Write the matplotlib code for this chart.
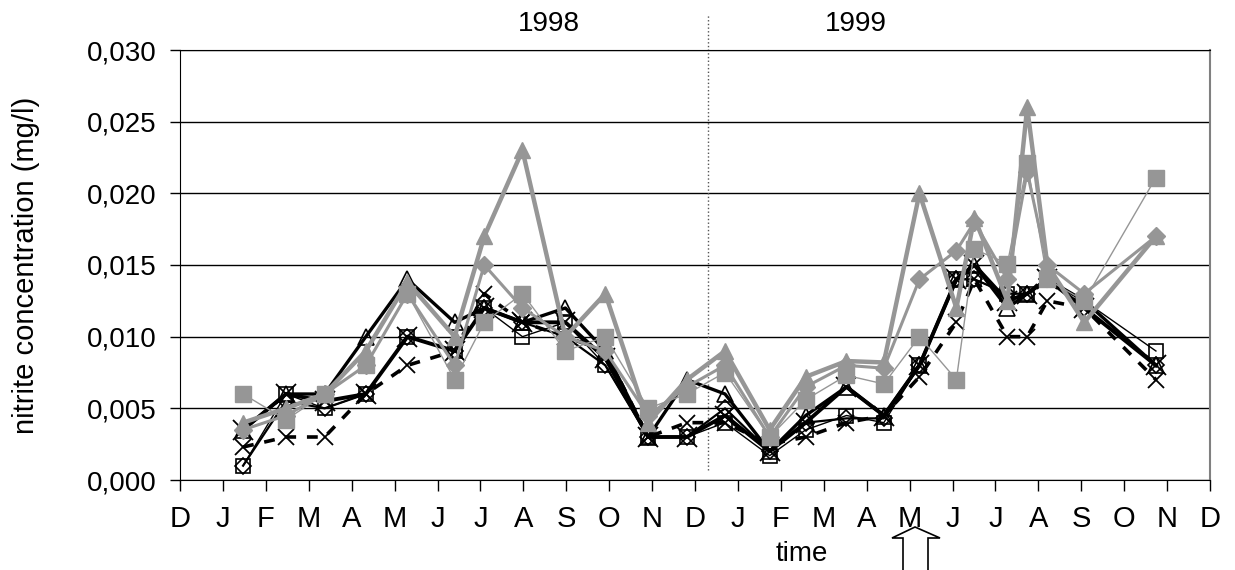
import matplotlib
matplotlib.use("Agg")
import matplotlib.pyplot as plt
from matplotlib.patches import Polygon
from matplotlib.ticker import FuncFormatter

plt.rcParams["font.family"] = ["Liberation Sans", "DejaVu Sans"]

GREY = "#969696"

# sampling dates, in months after 1 Dec 1997
dates = [1.47, 2.47, 3.37, 4.33, 5.30, 6.40, 7.09, 7.98, 8.98, 9.91, 10.91, 11.81,
         12.70, 13.74, 14.58, 15.53, 16.40, 17.23, 18.09, 18.51, 19.28, 19.74,
         20.21, 21.07, 22.74]

# nitrite concentration (mg/l) per sampling site
grey_tri = [0.0040, 0.0050, 0.0060, 0.0090, 0.0138, 0.0100, 0.0170, 0.0230, 0.0100,
            0.0130, 0.0040, 0.0070, 0.0090, 0.0035, 0.0072, 0.0083, 0.0082, 0.0200,
            0.0120, 0.0183, 0.0125, 0.0260, 0.0150, 0.0110, 0.0170]
grey_dia = [0.0035, 0.0045, 0.0060, 0.0080, 0.0130, 0.0080, 0.0150, 0.0120, 0.0100,
            0.0090, 0.0045, 0.0065, 0.0080, 0.0030, 0.0065, 0.0080, 0.0078, 0.0140,
            0.0160, 0.0180, 0.0140, 0.0215, 0.0150, 0.0130, 0.0170]
grey_sq = [0.0060, 0.0042, 0.0060, 0.0080, 0.0130, 0.0070, 0.0110, 0.0130, 0.0090,
           0.0100, 0.0050, 0.0060, 0.0075, 0.0030, 0.0056, 0.0073, 0.0067, 0.0100,
           0.0070, 0.0161, 0.0151, 0.0221, 0.0140, 0.0125, 0.0211]
black_tri = [0.0035, 0.0060, 0.0060, 0.0100, 0.0140, 0.0110, 0.0120, 0.0110, 0.0120,
             0.0090, 0.0030, 0.0070, 0.0060, 0.0020, 0.0045, 0.0065, 0.0045, 0.0080,
             0.0140, 0.0150, 0.0120, 0.0130, 0.0140, 0.0125, 0.0080]
black_sq = [0.0010, 0.0060, 0.0050, 0.0060, 0.0100, 0.0090, 0.0120, 0.0100, 0.0110,
            0.0080, 0.0030, 0.0030, 0.0040, 0.0017, 0.0035, 0.0045, 0.0040, 0.0080,
            0.0140, 0.0140, 0.0130, 0.0130, 0.0140, 0.0125, 0.0090]
black_dia = [0.0010, 0.0055, 0.0050, 0.0060, 0.0100, 0.0090, 0.0120, 0.0110, 0.0100,
             0.0080, 0.0030, 0.0030, 0.0050, 0.0020, 0.0040, 0.0043, 0.0043, 0.0080,
             0.0140, 0.0140, 0.0130, 0.0130, 0.0140, 0.0120, 0.0080]
black_x = [0.0035, 0.0060, 0.0055, 0.0060, 0.0100, 0.0090, 0.0120, 0.0110, 0.0110,
           0.0085, 0.0030, 0.0030, 0.0045, 0.0020, 0.0040, 0.0065, 0.0045, 0.0080,
           0.0140, 0.0150, 0.0125, 0.0130, 0.0140, 0.0120, 0.0080]
black_dash = [0.0023, 0.0030, 0.0030, 0.0060, 0.0080, 0.0090, 0.0130, 0.0110, 0.0100,
              0.0090, 0.0030, 0.0040, 0.0040, 0.0025, 0.0030, 0.0040, 0.0045, 0.0072,
              0.0110, 0.0140, 0.0100, 0.0100, 0.0125, 0.0120, 0.0070]

month_labels = ["D", "J", "F", "M", "A", "M", "J", "J", "A", "S", "O", "N", "D",
                "J", "F", "M", "A", "M", "J", "J", "A", "S", "O", "N", "D"]
y_ticks = [0.000, 0.005, 0.010, 0.015, 0.020, 0.025, 0.030]

fig = plt.figure(figsize=(12.35, 5.7), dpi=100)
ax = fig.add_axes([180 / 1235, 1 - 480 / 570, 1030 / 1235, 430 / 570])

# black series first, grey ones drawn over them
ax.plot(dates, black_dash, color="black", lw=2.6, ls=(0, (3, 3)),
        marker="x", ms=11, mew=1.3, zorder=3)
ax.plot(dates, black_dia, color="black", lw=1.6, marker="D", ms=8,
        mfc="none", mec="black", mew=1.2, zorder=3)
ax.plot(dates, black_sq, color="black", lw=1.0, marker="s", ms=10,
        mfc="none", mec="black", mew=1.2, zorder=3)
ax.plot(dates, black_x, color="black", lw=2.8, marker="x", ms=14,
        mew=1.3, zorder=3)
ax.plot(dates, black_tri, color="black", lw=2.4, marker="^", ms=11,
        mfc="none", mec="black", mew=1.2, zorder=3)
ax.plot(dates, grey_sq, color=GREY, lw=1.0, marker="s", ms=11,
        mfc=GREY, mec=GREY, zorder=4)
ax.plot(dates, grey_dia, color=GREY, lw=2.2, marker="D", ms=9,
        mfc=GREY, mec=GREY, zorder=4)
ax.plot(dates, grey_tri, color=GREY, lw=3.2, marker="^", ms=12,
        mfc=GREY, mec=GREY, zorder=4)

ax.set_xlim(0, 24)
ax.set_ylim(0, 0.030)
ax.set_xticks(range(len(month_labels)))
ax.set_xticklabels(month_labels)
ax.set_yticks(y_ticks)
ax.yaxis.set_major_formatter(FuncFormatter(lambda v, p: f"{v:.3f}".replace(".", ",")))
ax.tick_params(axis="x", direction="out", length=8, width=1, pad=10, labelsize=21)
ax.tick_params(axis="y", direction="out", length=7, width=1, pad=10, labelsize=20)

ax.grid(axis="y", color="black", lw=1)
ax.set_axisbelow(True)
for side in ["top", "left", "bottom"]:
    ax.spines[side].set_color("black")
ax.spines["right"].set_color("#808080")
ax.spines["right"].set_linewidth(1.5)

ax.set_ylabel("nitrite concentration (mg/l)", fontsize=21)
ax.yaxis.set_label_coords(-0.136, 0.5)
ax.text(0.604, -0.172, "time", transform=ax.transAxes, fontsize=20,
        ha="center", va="center")

# separation between the two years
ax.plot([12.31, 12.31], [0.0007, 0.0325], color="#555555", lw=1,
        ls=":", clip_on=False)
ax.text(8.6, 0.0318, "1998", fontsize=20, ha="center", va="center")
ax.text(15.75, 0.0318, "1999", fontsize=20, ha="center", va="center")

# hollow arrow under May 1999
W, H = 1235.0, 570.0
pts = [(915, 527), (940, 538), (928, 538), (928, 572), (903, 572), (903, 538), (892, 538)]
arrow = Polygon([(x / W, 1 - y / H) for x, y in pts], closed=True,
                transform=fig.transFigure, facecolor="white", edgecolor="black",
                lw=1.2, clip_on=False)
fig.patches.append(arrow)

fig.savefig("out.png", dpi=100)
